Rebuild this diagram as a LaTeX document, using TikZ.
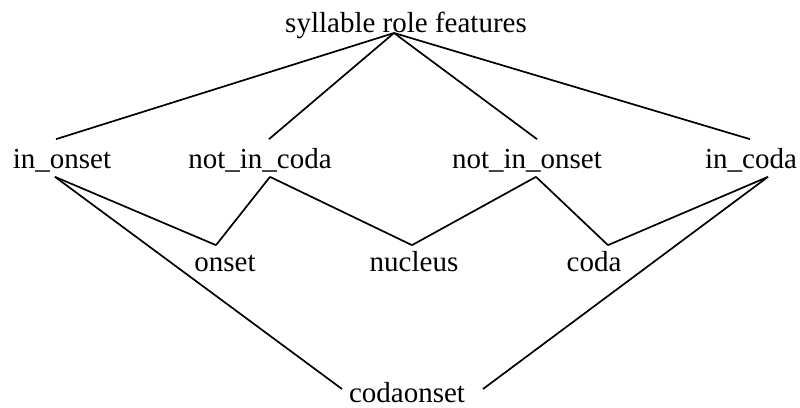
\documentclass[tikz,border=0pt]{standalone}
\usepackage{fontspec}
\setmainfont{Liberation Serif}
\begin{document}
\begin{tikzpicture}[x=0.5pt,y=-0.5pt,line width=0.85pt,
  feature/.style={inner sep=0pt,text height=14pt,text depth=4pt,anchor=base,font=\fontsize{14.5}{17}\selectfont}]
\useasboundingbox (0,0) rectangle (800,408);
\node[feature] (top) at (406,32) {syllable role features};
\node[feature] (inonset) at (62,168) {in\_onset};
\node[feature] (notincoda) at (260,168) {not\_in\_coda};
\node[feature] (notinonset) at (527,168) {not\_in\_onset};
\node[feature] (incoda) at (751,168) {in\_coda};
\node[feature] (onset) at (225,271) {onset};
\node[feature] (nucleus) at (414,271) {nucleus};
\node[feature] (coda) at (594,271) {coda};
\node[feature] (codaonset) at (407,402) {codaonset};
\path
([xshift=-6pt,yshift=-0.5pt]top.base) edge ([xshift=-3pt]inonset.north)
    edge ([xshift=4.5pt]notincoda.north)
    edge ([xshift=5pt]notinonset.north)
    edge ([xshift=-0.5pt]incoda.north)
([xshift=-3.5pt]inonset.south) edge ([xshift=-4.5pt,yshift=-1.5pt]onset.north)
    edge ([xshift=-32.5pt,yshift=6.5pt]codaonset.base)
([xshift=5pt]notincoda.south) edge ([xshift=-4.5pt,yshift=-1.5pt]onset.north)
    edge ([xshift=-1pt,yshift=-1.5pt]nucleus.north)
([xshift=4.5pt]notinonset.south) edge ([xshift=-1pt,yshift=-1.5pt]nucleus.north)
    edge ([xshift=7pt,yshift=-1.5pt]coda.north)
([xshift=8.5pt]incoda.south) edge ([xshift=7pt,yshift=-1.5pt]coda.north)
    edge ([xshift=38pt,yshift=6.5pt]codaonset.base);
\end{tikzpicture}
\end{document}
